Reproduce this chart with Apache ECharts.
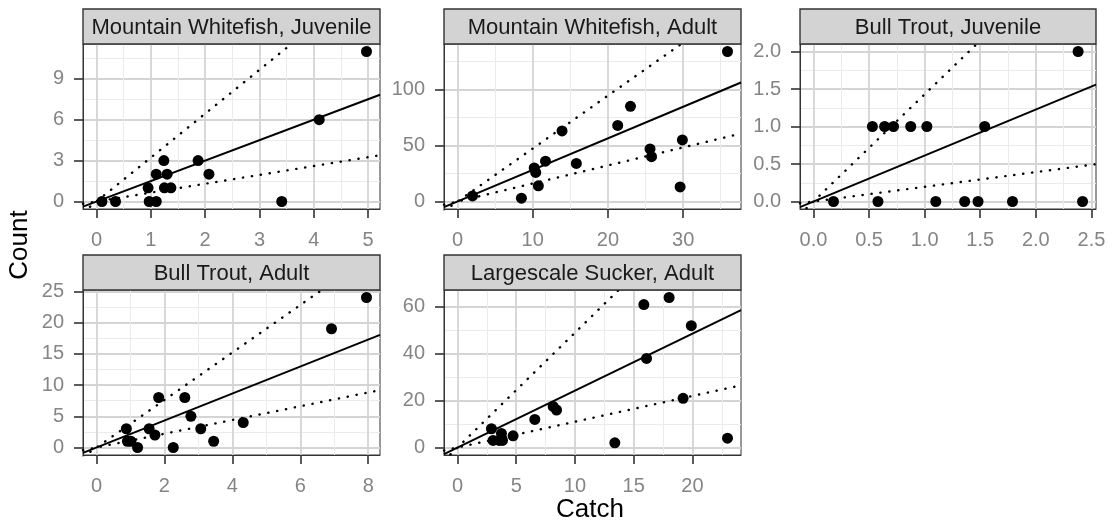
<!DOCTYPE html>
<html><head><meta charset="utf-8">
<script src="https://cdn.jsdelivr.net/npm/echarts@6/dist/echarts.min.js"></script>
<style>html,body{margin:0;padding:0;background:#fff}#c{width:1112px;height:525px}</style>
</head><body><div id="c"></div>
<script>
// ---- data ----
const panelTitles = ['Mountain Whitefish, Juvenile', 'Mountain Whitefish, Adult', 'Bull Trout, Juvenile', 'Bull Trout, Adult', 'Largescale Sucker, Adult'];

const mwjCatch = [0.10, 0.35, 0.95, 0.97, 1.10, 1.10, 1.24, 1.30, 1.25, 1.37, 1.87, 2.07, 3.41, 4.10, 4.97];
const mwjCount = [0, 0, 1, 0, 0, 2, 3, 2, 1, 1, 3, 2, 0, 6, 11];

const mwaCatch = [2.0, 8.5, 10.2, 10.4, 10.75, 11.7, 13.9, 15.8, 21.3, 23.0, 25.6, 25.8, 29.9, 29.6, 35.9];
const mwaCount = [5, 3, 30, 26, 14, 36, 63, 34, 68, 85, 47, 40, 55, 13, 134];

const btjCatch = [0.18, 0.53, 0.58, 0.64, 0.72, 0.875, 1.02, 1.10, 1.36, 1.48, 1.54, 1.79, 2.38, 2.42];
const btjCount = [0, 1, 0, 1, 1, 1, 1, 0, 0, 0, 1, 0, 2, 0];

const btaCatch = [0.88, 0.91, 1.01, 1.21, 1.55, 1.72, 1.83, 2.26, 2.60, 2.78, 3.07, 3.45, 4.32, 6.92, 7.95];
const btaCount = [3, 1, 1, 0, 3, 2, 8, 0, 8, 5, 3, 1, 4, 19, 24];

const lsaCatch = [2.89, 3.03, 3.55, 3.74, 3.83, 4.73, 6.58, 8.14, 8.43, 13.39, 15.86, 16.09, 18.01, 19.2, 19.9, 22.98];
const lsaCount = [8, 3, 3, 6, 3, 5, 12, 17.5, 16, 2, 61, 38, 64, 21, 52, 4];

const solidSlopes = [1.50, 2.82, 0.613, 2.16, 2.43];
const upperSlopes = [3.22, 4.73, 1.43, 3.80, 4.90];
const lowerSlopes = [0.65, 1.61, 0.196, 1.10, 1.10];

const xTicks = [[0,1,2,3,4,5],[0,10,20,30],[0,0.5,1,1.5,2,2.5],[0,2,4,6,8],[0,5,10,15,20]];
const xMinorTicks = [[0.5,1.5,2.5,3.5,4.5],[5,15,25,35],[0.25,0.75,1.25,1.75,2.25],[1,3,5,7],[2.5,7.5,12.5,17.5,22.5]];
const yTicks = [[0,3,6,9],[0,50,100],[0,0.5,1,1.5,2],[0,5,10,15,20,25],[0,20,40,60]];
const yMinorTicks = [[1.5,4.5,7.5,10.5],[25,75,125],[0.25,0.75,1.25,1.75],[2.5,7.5,12.5,17.5,22.5],[10,30,50]];
const tickDecimals = [0,0,1,0,0];

const xLabel = 'Catch';
const yLabel = 'Count';

// ---- layout ----
const catches = [mwjCatch, mwaCatch, btjCatch, btaCatch, lsaCatch];
const counts = [mwjCount, mwaCount, btjCount, btaCount, lsaCount];
const layout = [
  {left: 83, top: 44, width: 297, height: 165},
  {left: 444, top: 44, width: 297, height: 165},
  {left: 800, top: 44, width: 296, height: 165},
  {left: 83, top: 290, width: 297, height: 165},
  {left: 444, top: 290, width: 297, height: 165}
];
const stripH = 35;
const FONT = '"Liberation Sans", Arial, Helvetica, sans-serif';

const grids = [], xAxes = [], yAxes = [], series = [], graphics = [];

layout.forEach((g, i) => {
  grids.push({left: g.left, top: g.top, width: g.width, height: g.height,
    show: true, borderColor: '#333', borderWidth: 1, backgroundColor: '#fff', containLabel: false});
  const xmx = Math.max(...catches[i]), ymx = Math.max(...counts[i]);
  const xr = [-0.05 * xmx, 1.05 * xmx], yr = [-0.05 * ymx, 1.05 * ymx];
  const fmt = v => Number(v).toFixed(tickDecimals[i]);
  // minor axes first (drawn underneath)
  xAxes.push({type: 'value', gridIndex: i, min: xr[0], max: xr[1], position: 'bottom',
    axisLine: {show: false}, axisTick: {show: false, customValues: xMinorTicks[i]},
    axisLabel: {show: false, customValues: xMinorTicks[i]},
    splitLine: {show: true, lineStyle: {color: '#ebebeb', width: 1}}});
  yAxes.push({type: 'value', gridIndex: i, min: yr[0], max: yr[1], position: 'left',
    axisLine: {show: false}, axisTick: {show: false, customValues: yMinorTicks[i]},
    axisLabel: {show: false, customValues: yMinorTicks[i]},
    splitLine: {show: true, lineStyle: {color: '#ebebeb', width: 1}}});
  xAxes.push({type: 'value', gridIndex: i, min: xr[0], max: xr[1], position: 'bottom',
    axisLine: {show: true, onZero: false, lineStyle: {color: '#333', width: 1}},
    axisTick: {show: true, length: 9, customValues: xTicks[i], lineStyle: {color: '#333', width: 1.6}},
    axisLabel: {customValues: xTicks[i], formatter: fmt, color: '#858585', fontSize: 20, margin: 21, fontFamily: FONT},
    splitLine: {show: true, lineStyle: {color: '#d4d4d4', width: 1.8}}});
  yAxes.push({type: 'value', gridIndex: i, min: yr[0], max: yr[1], position: 'left',
    axisLine: {show: true, onZero: false, lineStyle: {color: '#333', width: 1}},
    axisTick: {show: true, length: 9, customValues: yTicks[i], lineStyle: {color: '#333', width: 1.6}},
    axisLabel: {customValues: yTicks[i], formatter: fmt, color: '#858585', fontSize: 20, margin: 19, fontFamily: FONT},
    splitLine: {show: true, lineStyle: {color: '#d4d4d4', width: 1.8}}});
  const xa = 2 * i + 1, ya = 2 * i + 1;
  const lineData = s => [[xr[0], s * xr[0]], [xr[1], s * xr[1]]];
  series.push({type: 'line', xAxisIndex: xa, yAxisIndex: ya, data: lineData(upperSlopes[i]), symbol: 'none', clip: true, silent: true,
    lineStyle: {color: '#000', width: 2.4, type: [0.3, 8.7], cap: 'round'}, z: 3});
  series.push({type: 'line', xAxisIndex: xa, yAxisIndex: ya, data: lineData(lowerSlopes[i]), symbol: 'none', clip: true, silent: true,
    lineStyle: {color: '#000', width: 2.4, type: [0.3, 8.7], cap: 'round'}, z: 3});
  series.push({type: 'line', xAxisIndex: xa, yAxisIndex: ya, data: lineData(solidSlopes[i]), symbol: 'none', clip: true, silent: true,
    lineStyle: {color: '#000', width: 2}, z: 3});
  series.push({type: 'scatter', xAxisIndex: xa, yAxisIndex: ya, symbolSize: 11, clip: false,
    itemStyle: {color: '#000', opacity: 1},
    data: catches[i].map((c, k) => [c, counts[i][k]]), z: 4});
  graphics.push({type: 'rect', shape: {x: g.left, y: g.top - stripH, width: g.width, height: stripH},
    style: {fill: '#d3d3d3', stroke: '#333', lineWidth: 1.4}, z: 10});
  graphics.push({type: 'text', x: g.left + g.width / 2, y: g.top - stripH / 2 + 1,
    style: {text: panelTitles[i], fill: '#1a1a1a', font: '22px ' + FONT, textAlign: 'center', textVerticalAlign: 'middle'}, z: 11});
});

graphics.push({type: 'text', x: 590, y: 510, style: {text: xLabel, fill: '#000', font: '26px ' + FONT, textAlign: 'center', textVerticalAlign: 'middle'}});
graphics.push({type: 'text', x: 20, y: 245, rotation: Math.PI / 2, style: {text: yLabel, fill: '#000', font: '26px ' + FONT, textAlign: 'center', textVerticalAlign: 'middle'}});

const chart = echarts.init(document.getElementById('c'), null, {renderer: 'canvas'});
chart.setOption({
  animation: false,
  backgroundColor: '#fff',
  grid: grids, xAxis: xAxes, yAxis: yAxes, series: series, graphic: graphics
});
</script></body></html>
